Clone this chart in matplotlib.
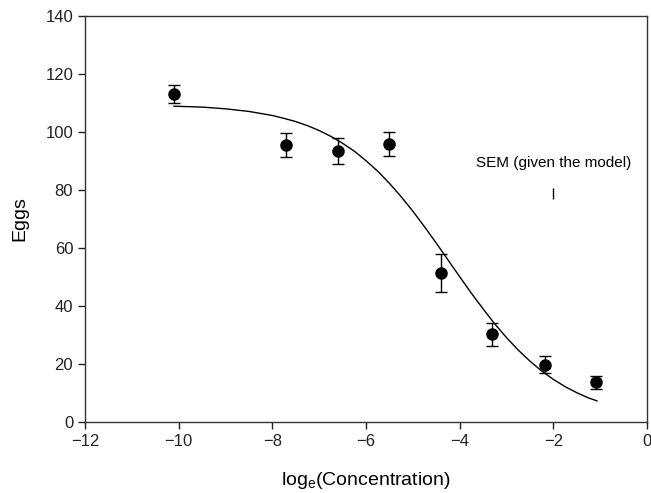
import matplotlib
matplotlib.use("Agg")
import matplotlib.pyplot as plt

plt.rcParams['font.family'] = ['Liberation Sans', 'DejaVu Sans']

# observed means and SEM
log_conc = [-10.1, -7.7, -6.6, -5.5, -4.4, -3.3, -2.18, -1.1]
eggs = [113.2, 95.5, 93.4, 95.9, 51.3, 30.2, 19.8, 13.7]
sem = [3.1, 4.0, 4.4, 4.2, 6.5, 4.0, 2.9, 2.3]

# fitted curve
curve_x = [-10.1, -9.5, -9.0, -8.5, -8.0, -7.75, -7.5, -7.25, -7.0, -6.75,
           -6.5, -6.25, -6.0, -5.75, -5.5, -5.25, -5.0, -4.75, -4.5, -4.25,
           -4.0, -3.75, -3.5, -3.25, -3.0, -2.75, -2.5, -2.25, -2.0, -1.75,
           -1.5, -1.25, -1.07]
curve_y = [108.9, 108.6, 108.0, 107.1, 105.7, 104.7, 103.6, 102.2, 100.5, 98.5,
           96.1, 93.4, 90.1, 86.5, 82.3, 77.7, 72.7, 67.3, 61.7, 55.9,
           50.1, 44.4, 39.0, 33.8, 29.1, 24.8, 21.0, 17.6, 14.7, 12.2,
           10.1, 8.3, 7.3]

# SEM given the model (key bar)
sem_model_x = -2.0
sem_model_y = 78.8
sem_model = 1.8

fig = plt.figure(figsize=(6.51, 4.93), dpi=100)
ax = fig.add_axes([0.1306, 0.144, 0.8633, 0.8235])

ax.plot(curve_x, curve_y, color='black', linewidth=1.0)
ax.errorbar(log_conc, eggs, yerr=sem, fmt='o', color='black', ms=8,
            ecolor='black', elinewidth=1.0, capsize=4.3, capthick=1.0)

ax.vlines(sem_model_x, sem_model_y - sem_model, sem_model_y + sem_model,
          color='black', linewidth=1.0)
ax.text(sem_model_x, 89.3, 'SEM (given the model)', ha='center', va='center',
        fontsize=11)

ax.set_xlim(-12, 0)
ax.set_ylim(0, 140)
ax.set_xticks([-12, -10, -8, -6, -4, -2, 0])
ax.set_xticklabels(['\u221212', '\u221210', '\u22128', '\u22126', '\u22124', '\u22122', '0'])
ax.set_yticks(range(0, 141, 20))
ax.tick_params(direction='out', length=5, width=1.0, labelsize=12, colors='#222222')
for s in ax.spines.values():
    s.set_linewidth(1.0)
    s.set_color('#333333')

ax.set_xlabel('log$_\\mathregular{e}$(Concentration)', fontsize=14, labelpad=15)
ax.set_ylabel('Eggs', fontsize=14, labelpad=12)

fig.savefig('out.png', dpi=100)
